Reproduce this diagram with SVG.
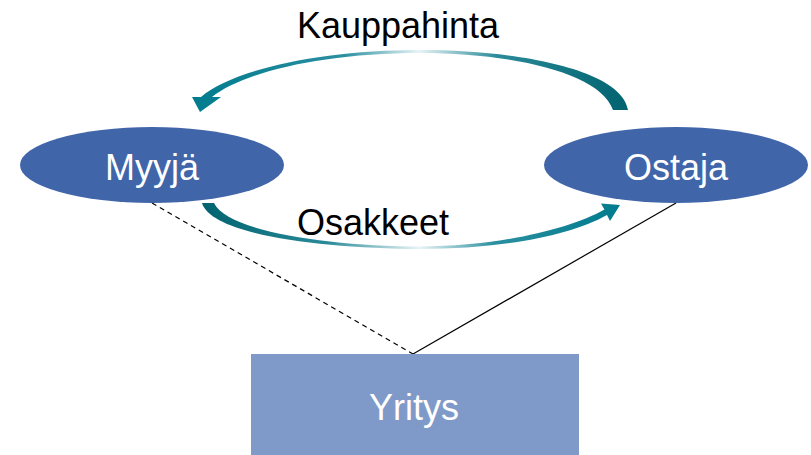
<svg xmlns="http://www.w3.org/2000/svg" width="811" height="455" viewBox="0 0 811 455">
  <defs>
    <linearGradient id="gradTop" gradientUnits="userSpaceOnUse" x1="192" y1="0" x2="628" y2="0">
      <stop offset="0" stop-color="#007b8e"/>
      <stop offset="0.35" stop-color="#2a8fa0"/>
      <stop offset="0.52" stop-color="#e8f4f6"/>
      <stop offset="0.7" stop-color="#2a8a99"/>
      <stop offset="1" stop-color="#00636f"/>
    </linearGradient>
    <linearGradient id="gradBottom" gradientUnits="userSpaceOnUse" x1="202" y1="0" x2="620" y2="0">
      <stop offset="0" stop-color="#00636f"/>
      <stop offset="0.3" stop-color="#2a8a99"/>
      <stop offset="0.52" stop-color="#e8f4f6"/>
      <stop offset="0.7" stop-color="#2a8fa0"/>
      <stop offset="1" stop-color="#007b8e"/>
    </linearGradient>
  </defs>
  <style>
    .label { font-family: "Liberation Sans", Arial, sans-serif; font-size: 36px; text-anchor: middle; }
    .dark { fill: #000000; }
    .light { fill: #ffffff; }
    .party { fill: #4065a9; }
    .firm { fill: #7f9ac8; }
    .link { stroke: #000000; stroke-width: 1.2; fill: none; }
  </style>
  <rect width="811" height="455" fill="#ffffff"/>

  <!-- connectors -->
  <g id="connectors">
    <line class="link" x1="152" y1="203" x2="413" y2="354" stroke-dasharray="5,4"/>
    <line class="link" x1="413" y1="354" x2="676" y2="203"/>
    <!-- payment flow: buyer to seller -->
    <path fill="url(#gradTop)" d="M 628,110 C 622,70 520,50 420,50 C 320,50 232,70 201,97 L 192,97 L 200,112 L 221,97 L 212,97 C 242,73 320,53 420,53 C 510,53 600,72 613,110 Z"/>
    <!-- shares flow: seller to buyer -->
    <path fill="url(#gradBottom)" d="M 202,203 C 212,235 320,248 420,249 C 500,249 570,236 607,215 L 610,221 L 620,205 L 601,203.5 L 604.4,209.5 C 570,229 500,246 420,246.5 C 330,246 228,232 214,203 Z"/>
    <text class="label dark" x="398" y="38">Kauppahinta</text>
    <text class="label dark" x="373" y="235">Osakkeet</text>
  </g>

  <g id="myyja">
    <ellipse class="party" cx="152" cy="165" rx="132" ry="38"/>
    <text class="label light" x="152" y="180">Myyjä</text>
  </g>

  <g id="ostaja">
    <ellipse class="party" cx="676" cy="165" rx="132" ry="38"/>
    <text class="label light" x="676" y="180">Ostaja</text>
  </g>

  <g id="yritys">
    <rect class="firm" x="251" y="354" width="328" height="101"/>
    <text class="label light" x="414" y="420">Yritys</text>
  </g>
</svg>
